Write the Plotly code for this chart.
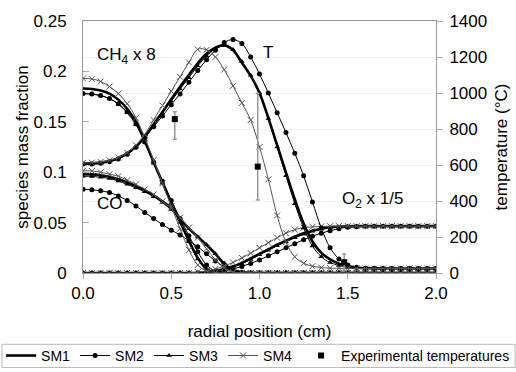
import plotly.graph_objects as go

# radial positions (cm)
R = [0.00, 0.05, 0.10, 0.15, 0.20, 0.25, 0.30, 0.35, 0.40, 0.45,
     0.50, 0.55, 0.60, 0.65, 0.70, 0.75, 0.80, 0.85, 0.90, 0.95,
     1.00, 1.05, 1.10, 1.15, 1.20, 1.25, 1.30, 1.35, 1.40, 1.45,
     1.50, 1.55, 1.60, 1.65, 1.70, 1.75, 1.80, 1.85, 1.90, 1.95, 2.00]

# temperature (deg C)
T_SM1 = [608, 609, 613, 622, 638, 665, 703, 758, 825, 895,
         965, 1035, 1100, 1165, 1218, 1252, 1266, 1238, 1168, 1095,
         1000, 862, 710, 558, 410, 275, 175, 112, 76, 52,
         38, 31, 27, 26, 25, 25, 25, 25, 25, 25, 25]
T_SM2 = [605, 606, 610, 618, 634, 660, 698, 752, 812, 872,
         935, 995, 1060, 1125, 1185, 1238, 1280, 1297, 1275, 1200,
         1105, 1000, 890, 780, 665, 540, 395, 250, 140, 78,
         44, 32, 27, 26, 25, 25, 25, 25, 25, 25, 25]
T_SM3 = [606, 607, 611, 620, 636, 662, 700, 755, 820, 888,
         955, 1022, 1085, 1150, 1205, 1245, 1262, 1242, 1175, 1098,
         1000, 858, 700, 540, 385, 250, 150, 90, 58, 42,
         33, 28, 26, 25, 25, 25, 25, 25, 25, 25, 25]
T_SM4 = [612, 613, 617, 626, 642, 668, 710, 770, 850, 930,
         1010, 1090, 1170, 1242, 1240, 1200, 1130, 1040, 945, 850,
         700, 520, 320, 170, 90, 54, 38, 30, 27, 26,
         25, 25, 25, 25, 25, 25, 25, 25, 25, 25, 25]

# CH4 mass fraction x 8
CH4_SM1 = [0.183, 0.1825, 0.181, 0.178, 0.172, 0.163, 0.150, 0.131, 0.110, 0.090,
           0.070, 0.051, 0.032, 0.015, 0.004, 0.0008, 0.0002, 0, 0, 0,
           0, 0, 0, 0, 0, 0, 0, 0, 0, 0,
           0, 0, 0, 0, 0, 0, 0, 0, 0, 0, 0]
CH4_SM2 = [0.178, 0.1775, 0.176, 0.173, 0.168, 0.160, 0.148, 0.130, 0.110, 0.091,
           0.072, 0.054, 0.037, 0.021, 0.008, 0.002, 0.0005, 0, 0, 0,
           0, 0, 0, 0, 0, 0, 0, 0, 0, 0,
           0, 0, 0, 0, 0, 0, 0, 0, 0, 0, 0]
CH4_SM3 = [0.178, 0.1775, 0.176, 0.173, 0.1675, 0.159, 0.147, 0.130, 0.109, 0.089,
           0.069, 0.050, 0.031, 0.014, 0.004, 0.001, 0.0002, 0, 0, 0,
           0, 0, 0, 0, 0, 0, 0, 0, 0, 0,
           0, 0, 0, 0, 0, 0, 0, 0, 0, 0, 0]
CH4_SM4 = [0.193, 0.1925, 0.190, 0.185, 0.178, 0.168, 0.154, 0.134, 0.112, 0.089,
           0.066, 0.044, 0.023, 0.008, 0.002, 0.0005, 0.0001, 0, 0, 0,
           0, 0, 0, 0, 0, 0, 0, 0, 0, 0,
           0, 0, 0, 0, 0, 0, 0, 0, 0, 0, 0]

# CO mass fraction
CO_SM1 = [0.098, 0.0978, 0.097, 0.0955, 0.093, 0.090, 0.086, 0.082, 0.077, 0.071,
          0.064, 0.054, 0.044, 0.036, 0.028, 0.019, 0.009, 0.003, 0.0006, 0.0001,
          0, 0, 0, 0, 0, 0, 0, 0, 0, 0,
          0, 0, 0, 0, 0, 0, 0, 0, 0, 0, 0]
CO_SM2 = [0.083, 0.0826, 0.0815, 0.0798, 0.0765, 0.072, 0.0665, 0.060, 0.054, 0.048,
          0.0425, 0.0377, 0.032, 0.026, 0.019, 0.012, 0.006, 0.002, 0.0005, 0.0001,
          0, 0, 0, 0, 0, 0, 0, 0, 0, 0,
          0, 0, 0, 0, 0, 0, 0, 0, 0, 0, 0]
CO_SM3 = [0.096, 0.0958, 0.095, 0.0937, 0.0913, 0.088, 0.0845, 0.0805, 0.0757, 0.070,
          0.063, 0.0535, 0.0438, 0.0358, 0.028, 0.019, 0.010, 0.004, 0.001, 0.0002,
          0, 0, 0, 0, 0, 0, 0, 0, 0, 0,
          0, 0, 0, 0, 0, 0, 0, 0, 0, 0, 0]
CO_SM4 = [0.1015, 0.1012, 0.100, 0.098, 0.096, 0.092, 0.088, 0.083, 0.078, 0.071,
          0.064, 0.055, 0.045, 0.035, 0.024, 0.013, 0.005, 0.001, 0.0002, 0,
          0, 0, 0, 0, 0, 0, 0, 0, 0, 0,
          0, 0, 0, 0, 0, 0, 0, 0, 0, 0, 0]

# O2 mass fraction x 1/5
O2_SM1 = [0, 0, 0, 0, 0, 0, 0, 0, 0, 0,
          0, 0, 0, 0, 0.001, 0.002, 0.004, 0.0065, 0.010, 0.0145,
          0.019, 0.0235, 0.028, 0.032, 0.036, 0.0395, 0.042, 0.044, 0.0455, 0.046,
          0.0464, 0.0465, 0.0465, 0.0465, 0.0465, 0.0465, 0.0465, 0.0465, 0.0465, 0.0465, 0.0465]
O2_SM2 = [0, 0, 0, 0, 0, 0, 0, 0, 0, 0,
          0, 0, 0, 0, 0, 0.001, 0.002, 0.004, 0.0065, 0.0095,
          0.013, 0.017, 0.021, 0.025, 0.029, 0.033, 0.0365, 0.0395, 0.042, 0.044,
          0.0455, 0.046, 0.0464, 0.0465, 0.0465, 0.0465, 0.0465, 0.0465, 0.0465, 0.0465, 0.0465]
O2_SM3 = [0, 0, 0, 0, 0, 0, 0, 0, 0, 0,
          0, 0, 0, 0, 0.0008, 0.0018, 0.0035, 0.006, 0.0093, 0.0135,
          0.018, 0.0225, 0.027, 0.031, 0.035, 0.0385, 0.0413, 0.0437, 0.0452, 0.0459,
          0.0463, 0.0465, 0.0465, 0.0465, 0.0465, 0.0465, 0.0465, 0.0465, 0.0465, 0.0465, 0.0465]
O2_SM4 = [0, 0, 0, 0, 0, 0, 0, 0, 0, 0,
          0, 0, 0, 0.001, 0.002, 0.004, 0.007, 0.0105, 0.015, 0.0197,
          0.025, 0.030, 0.035, 0.0395, 0.043, 0.0449, 0.0458, 0.0462, 0.0464, 0.0465,
          0.0465, 0.0465, 0.0465, 0.0465, 0.0465, 0.0465, 0.0465, 0.0465, 0.0465, 0.0465, 0.0465]

# experimental temperatures
EXP_R = [0.52, 0.99, 1.48]
EXP_T = [855, 591, 60]
EXP_ERR_PLUS = [41, 407, 45]
EXP_ERR_MINUS = [112, 186, 45]

SERIES = ["SM1", "SM2", "SM3", "SM4"]
DATA = {
    "SM1": (T_SM1, CH4_SM1, CO_SM1, O2_SM1),
    "SM2": (T_SM2, CH4_SM2, CO_SM2, O2_SM2),
    "SM3": (T_SM3, CH4_SM3, CO_SM3, O2_SM3),
    "SM4": (T_SM4, CH4_SM4, CO_SM4, O2_SM4),
}
STYLE = {
    "SM1": dict(mode="lines", line=dict(color="black", width=2.6)),
    "SM2": dict(mode="lines+markers", line=dict(color="black", width=1),
                marker=dict(symbol="circle", size=5, color="black")),
    "SM3": dict(mode="lines+markers", line=dict(color="black", width=1),
                marker=dict(symbol="triangle-up", size=5, color="black")),
    "SM4": dict(mode="lines+markers", line=dict(color="#555555", width=1),
                marker=dict(symbol="x-thin-open", size=6, color="#555555",
                            line=dict(color="#555555", width=1))),
}

fig = go.Figure()
for s in SERIES:
    T, CH4, CO, O2 = DATA[s]
    st = STYLE[s]
    for i, (yv, ax) in enumerate([(T, "y2"), (CH4, "y"), (CO, "y"), (O2, "y")]):
        fig.add_trace(go.Scatter(
            x=R, y=yv, yaxis=ax, name=s, legend="legend",
            showlegend=(i == 0), line_shape="spline", **st))

fig.add_trace(go.Scatter(
    x=EXP_R, y=EXP_T, yaxis="y2", mode="markers", name="Experimental temperatures",
    legend="legend2",
    marker=dict(symbol="square", size=6, color="black"),
    error_y=dict(type="data", array=EXP_ERR_PLUS, arrayminus=EXP_ERR_MINUS,
                 color="#999999", thickness=1.5, width=2)))

FONT = "Liberation Sans, Arial, sans-serif"
axis_common = dict(showline=True, linecolor="#999999", linewidth=1,
                   zeroline=False, tickcolor="#aaaaaa",
                   tickfont=dict(size=17, color="black", family=FONT))

LEG_FONT = dict(size=14, color="black", family=FONT)

fig.update_layout(
    width=516, height=372,
    margin=dict(l=83, r=80, t=21, b=99, autoexpand=False),
    paper_bgcolor="white", plot_bgcolor="white",
    font=dict(family=FONT, size=17, color="black"),
    xaxis=dict(range=[0, 2], dtick=0.5, tickformat=".1f", mirror=True,
               ticks="outside", ticklen=5, showgrid=False,
               title=dict(text="radial position (cm)", standoff=22,
                          font=dict(size=17)), **axis_common),
    yaxis=dict(range=[0, 0.25], dtick=0.05, mirror=True, ticks="inside",
               ticklen=6, showgrid=False, ticklabelstandoff=12,
               title=dict(text="species mass fraction", standoff=0,
                          font=dict(size=17)), **axis_common),
    yaxis2=dict(range=[0, 1400], dtick=200, overlaying="y", side="right",
                ticks="outside", ticklen=6, showgrid=True, gridcolor="#f2f2f2",
                ticklabelstandoff=3,
                title=dict(text="temperature (°C)", standoff=8,
                           font=dict(size=17)), **axis_common),
    legend=dict(orientation="h", x=-0.232, xanchor="left",
                y=-0.329, yanchor="middle", borderwidth=0,
                bgcolor="rgba(0,0,0,0)", font=LEG_FONT, itemwidth=30),
    legend2=dict(orientation="h", x=1.224, xanchor="right",
                 y=-0.329, yanchor="middle", borderwidth=0,
                 bgcolor="rgba(0,0,0,0)", font=LEG_FONT, itemwidth=30),
    showlegend=True,
)

# frame around the two legends
fig.add_shape(type="rect", xref="paper", yref="paper",
              x0=-0.2295, x1=1.224, y0=-0.375, y1=-0.283,
              line=dict(color="#bbbbbb", width=1), fillcolor="rgba(0,0,0,0)",
              layer="below")

ann_font = dict(size=17, color="black", family=FONT)
fig.add_annotation(x=0.244, y=0.215, xref="x", yref="y", text="CH<sub>4</sub> x 8",
                   showarrow=False, font=ann_font)
fig.add_annotation(x=1.048, y=0.219, xref="x", yref="y", text="T",
                   showarrow=False, font=ann_font)
fig.add_annotation(x=0.153, y=0.0685, xref="x", yref="y", text="CO",
                   showarrow=False, font=ann_font)
fig.add_annotation(x=1.643, y=0.0724, xref="x", yref="y", text="O<sub>2</sub> x 1/5",
                   showarrow=False, font=ann_font)

fig.write_html("out.html", config={"displayModeBar": False},
               post_script="document.body.style.margin='0px';")
